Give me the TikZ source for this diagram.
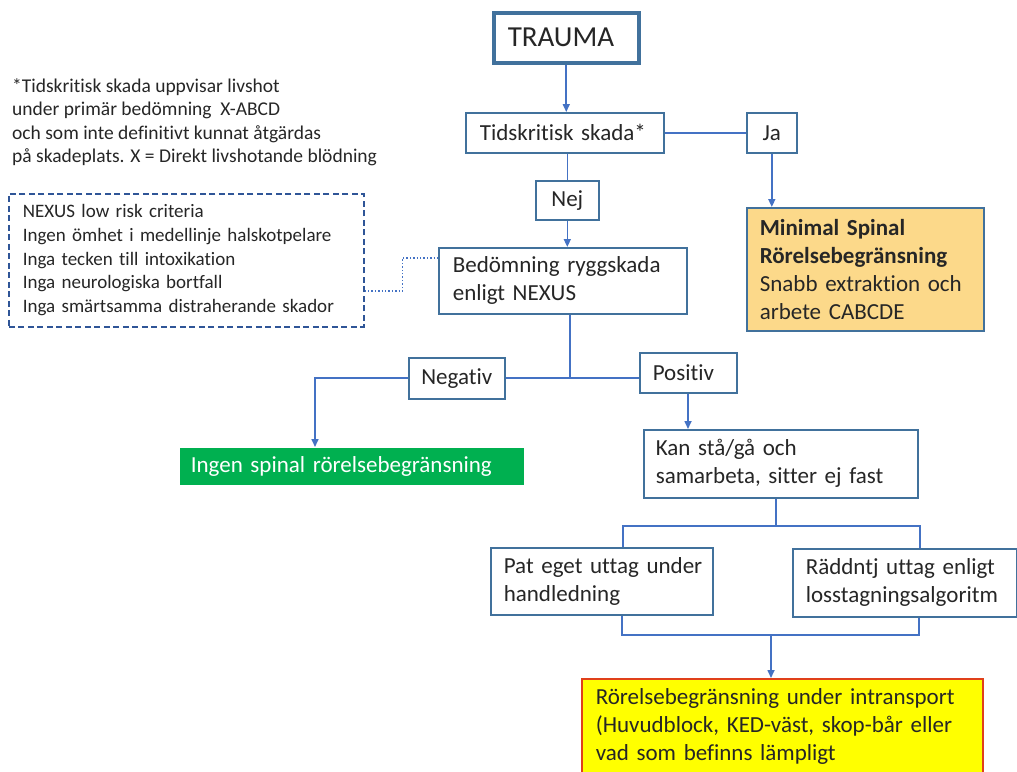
\documentclass[tikz,border=0pt]{standalone}
\usepackage{fontspec}
\setmainfont{Carlito}[Ligatures={NoCommon}]
\usetikzlibrary{arrows.meta,calc}
\definecolor{bx}{HTML}{41719C}
\definecolor{ln}{HTML}{4472C4}
\definecolor{dashcol}{HTML}{2F5597}
\definecolor{minfill}{HTML}{FCD98A}
\definecolor{grn}{HTML}{00B050}
\definecolor{ylw}{HTML}{FFFF00}
\definecolor{redb}{HTML}{E0401A}
\begin{document}
\begin{tikzpicture}[x=1pt,y=-1pt,
  box/.style={draw=bx, line width=1.6pt, fill=white, anchor=north west,
    inner xsep=13pt, inner ysep=0pt, align=left,
    font=\fontsize{23}{28}\selectfont, text=black!85},
  cbox/.style={box, align=center},
  con/.style={draw=ln, line width=1.6pt},
  arr/.style={con, -{Triangle[length=8pt,width=7pt]}}
]
\useasboundingbox (0,0) rectangle (1017,771);

% footnote
\node (note) [anchor=north west, align=left, inner sep=0pt,
  font=\fontsize{19.5}{23.6}\selectfont, text=black!85] at (12,78)
  {*Tidskritisk skada uppvisar livshot\\
   under primär bedömning\ \ X-ABCD\\
   och som inte definitivt kunnat åtgärdas\\
   på skadeplats. X = Direkt livshotande blödning};

% nodes
\node (trauma) [box, line width=3.5pt, inner xsep=14pt, text width=117pt,
  minimum height=50pt, font=\fontsize{29}{34}\selectfont] at (492,11) {TRAUMA};
\node (tid) [box, inner xsep=14pt, text width=170pt, minimum height=40pt] at (465,112) {Tidskritisk skada*};
\node (ja) [cbox, inner xsep=10pt, text width=30pt, minimum height=40pt] at (746,112) {Ja};
\node (nej) [cbox, inner xsep=10pt, text width=43pt, minimum height=39pt] at (535,180) {Nej};
\node (bed) [box, inner xsep=14pt, text width=220pt, minimum height=66pt] at (438,247)
  {Bedömning ryggskada\\enligt NEXUS};
\node (minimal) [box, fill=minfill, text width=211pt, minimum height=123pt] at (746,207)
  {\textbf{Minimal Spinal}\\\textbf{Rörelsebegränsning}\\Snabb extraktion och\\arbete CABCDE};
\node (nexus) [box, draw=dashcol, dash pattern=on 6pt off 3.5pt, inner xsep=14pt,
  text width=327pt, minimum height=133pt, font=\fontsize{19}{23.7}\selectfont] at (8,193)
  {NEXUS low risk criteria\\Ingen ömhet i medellinje halskotpelare\\Inga tecken till intoxikation\\Inga neurologiska bortfall\\Inga smärtsamma distraherande skador};
\node (neg) [cbox, inner xsep=8pt, text width=80pt, minimum height=41pt] at (408,357) {Negativ};
\node (pos) [box, text width=71pt, minimum height=40pt] at (639,352) {Positiv};
\node (green) [box, draw=none, fill=grn, text=white, inner xsep=11pt, text width=322pt,
  minimum height=37pt] at (179,447) {Ingen spinal rörelsebegränsning};
\node (kan) [box, inner xsep=12pt, text width=250pt, minimum height=68pt] at (643,429)
  {Kan stå/gå och\\samarbeta, sitter ej fast};
\node (pat) [box, text width=196pt, minimum height=67pt] at (490,547)
  {\mbox{Pat eget uttag under}\\handledning};
\node (rad) [box, text width=198pt, minimum height=68pt] at (792,548)
  {\mbox{Räddntj uttag enligt}\\\mbox{losstagningsalgoritm}};
\node (ylwbox) [box, fill=ylw, draw=redb, inner xsep=14pt, text width=373pt,
  minimum height=95pt] at (581,678)
  {\mbox{Rörelsebegränsning under intransport}\\\mbox{(Huvudblock, KED-väst, skop-bår eller}\\vad som befinns lämpligt};

% junction coordinates
\coordinate (j1) at (570,378);
\coordinate (jl) at (315,378);
\coordinate (j2) at (776,526);
\coordinate (j3) at (771,635);
\coordinate (pA) at ($(pat.north west)+(133,0)$);
\coordinate (rA) at ($(rad.north west)+(128,0)$);
\coordinate (pB) at ($(pat.south west)+(132,0)$);
\coordinate (rB) at ($(rad.south west)+(127,0)$);

% connectors
\draw[arr] (trauma.south) -- (trauma.south |- tid.north);
\draw[con] (tid.east) -- (ja.west);
\draw[arr] (ja.south) -- (ja.south |- minimal.north);
\draw[con] (nej.north |- tid.south) -- (nej.north);
\draw[arr] (nej.south) -- (nej.south |- bed.north);
\draw[draw=ln, line width=1.4pt, dotted] ($(nexus.east)+(0,30.5)$) -- ++(38,0) |- ($(bed.west)+(0,-23)$);
\draw[con] (j1 |- bed.south) -- (j1);
\draw[con] (neg.east |- j1) -- (pos.west |- j1);
\draw[arr] (neg.west |- jl) -- (jl) -- (jl |- green.north);
\draw[arr] (pos.south -| 688,0) -- (kan.north -| 688,0);
\draw[con] (j2 |- kan.south) -- (j2);
\draw[con] (pA) -- (pA |- j2) -- (rA |- j2) -- (rA);
\draw[con] (pB) -- (pB |- j3) -- (rB |- j3) -- (rB);
\draw[arr] (j3) -- (j3 |- ylwbox.north);
\end{tikzpicture}
\end{document}
